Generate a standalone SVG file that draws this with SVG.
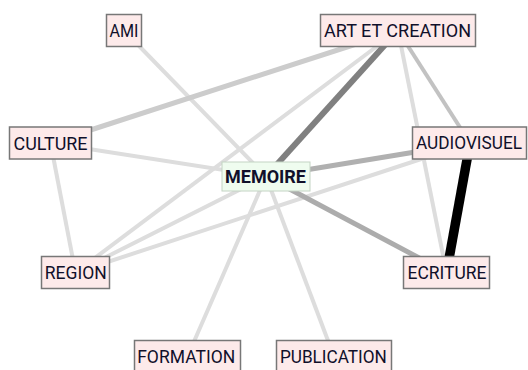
<svg xmlns="http://www.w3.org/2000/svg" width="528" height="370" viewBox="0 0 528 370">
<style>
.e{fill:none;stroke-linecap:butt}
.l{stroke:#dddddd;stroke-width:4}
.box{fill:#fdeaea;stroke:#777777;stroke-width:1.5}
.mem{fill:#effcef;stroke:#c4d4c4;stroke-width:1}
.t{font-family:Roboto,"Liberation Sans",sans-serif;font-size:19px;fill:#10102a;text-anchor:middle}
.b{font-weight:bold}
</style>
<rect width="528" height="370" fill="#ffffff"/>
<g id="connectors">
<line class="e l" x1="124" y1="30.5" x2="266" y2="176.5"/>
<line class="e l" x1="50.5" y1="143" x2="266" y2="176.5"/>
<line class="e l" x1="50.5" y1="143" x2="75.5" y2="272.5"/>
<line class="e l" x1="75.5" y1="272.5" x2="398" y2="30.5"/>
<line class="e l" x1="75.5" y1="272.5" x2="266" y2="176.5"/>
<line class="e l" x1="75.5" y1="272.5" x2="470" y2="143"/>
<line class="e l" x1="398" y1="30.5" x2="446.5" y2="272.5"/>
<line class="e l" x1="266" y1="176.5" x2="187.5" y2="356.5"/>
<line class="e l" x1="266" y1="176.5" x2="334" y2="356.5"/>
<line class="e" stroke="#cccccc" stroke-width="5" x1="50.5" y1="143" x2="398" y2="30.5"/>
<line class="e" stroke="#c2c2c2" stroke-width="4" x1="398" y1="30.5" x2="470" y2="143"/>
<line class="e" stroke="#b0b0b0" stroke-width="5" x1="266" y1="176.5" x2="470" y2="143"/>
<line class="e" stroke="#acacac" stroke-width="5" x1="266" y1="176.5" x2="446.5" y2="272.5"/>
<line class="e" stroke="#808080" stroke-width="6" x1="266" y1="176.5" x2="398" y2="30.5"/>
<line class="e" stroke="#000000" stroke-width="9.5" x1="470" y1="143" x2="446.5" y2="272.5"/>
</g>
<g id="node-ami"><rect class="box" x="106.5" y="14.5" width="35" height="32"/><text class="t" x="124" y="36.5" textLength="29" lengthAdjust="spacingAndGlyphs">AMI</text></g>
<g id="node-art"><rect class="box" x="320.5" y="14.5" width="155" height="32"/><text class="t" x="397.5" y="36.5" textLength="147" lengthAdjust="spacingAndGlyphs">ART ET CREATION</text></g>
<g id="node-culture"><rect class="box" x="9.5" y="127" width="82" height="32"/><text class="t" x="50.5" y="149.5" textLength="74" lengthAdjust="spacingAndGlyphs">CULTURE</text></g>
<g id="node-audiovisuel"><rect class="box" x="412.5" y="127" width="114" height="32"/><text class="t" x="469" y="149" font-size="17" textLength="106" lengthAdjust="spacingAndGlyphs">AUDIOVISUEL</text></g>
<g id="node-memoire"><rect class="mem" x="222" y="162" width="88" height="29"/><text class="t b" x="265.5" y="183" textLength="81" lengthAdjust="spacingAndGlyphs">MEMOIRE</text></g>
<g id="node-region"><rect class="box" x="41.5" y="256.5" width="68" height="32"/><text class="t" x="75.8" y="278.5" textLength="62" lengthAdjust="spacingAndGlyphs">REGION</text></g>
<g id="node-ecriture"><rect class="box" x="403.5" y="256.5" width="86" height="32"/><text class="t" x="447" y="278.5" textLength="79" lengthAdjust="spacingAndGlyphs">ECRITURE</text></g>
<g id="node-formation"><rect class="box" x="134.5" y="340.5" width="106" height="32"/><text class="t" x="186.2" y="362.5" textLength="98" lengthAdjust="spacingAndGlyphs">FORMATION</text></g>
<g id="node-publication"><rect class="box" x="276.5" y="340.5" width="115" height="32"/><text class="t" x="333.4" y="362.5" textLength="107" lengthAdjust="spacingAndGlyphs">PUBLICATION</text></g>
</svg>
